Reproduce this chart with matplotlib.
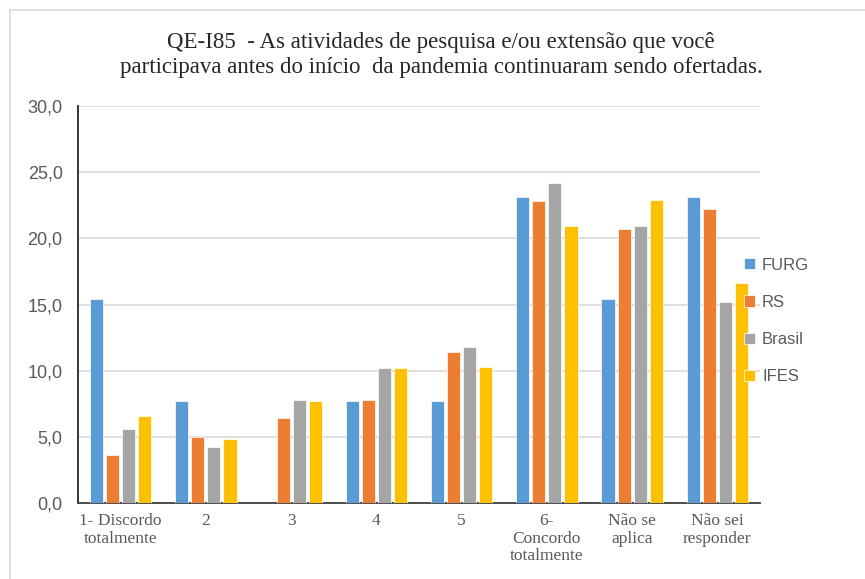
import matplotlib
matplotlib.use("Agg")
import matplotlib.pyplot as plt
import numpy as np
from matplotlib.lines import Line2D

categories = ["1- Discordo\ntotalmente", "2", "3", "4", "5",
              "6-\nConcordo\ntotalmente", "Não se\naplica", "Não sei\nresponder"]
series_names = ["FURG", "RS", "Brasil", "IFES"]
furg = [15.4, 7.7, 0.0, 7.7, 7.7, 23.1, 15.4, 23.1]
rs = [3.6, 5.0, 6.4, 7.8, 11.4, 22.8, 20.7, 22.2]
brasil = [5.6, 4.2, 7.8, 10.2, 11.8, 24.2, 20.9, 15.2]
ifes = [6.6, 4.8, 7.7, 10.2, 10.3, 20.9, 22.9, 16.6]
yticks = [0, 5, 10, 15, 20, 25, 30]

colors = ["#5b9bd5", "#ed7d31", "#a5a5a5", "#ffc000"]
values = [furg, rs, brasil, ifes]

fig = plt.figure(figsize=(8.65, 5.79), dpi=100)
# outer chart frame (top and left edges visible)
fig.lines.append(Line2D([10 / 865, 1.0], [1 - 10 / 579] * 2, transform=fig.transFigure,
                        color="#d9d9d9", linewidth=1.2))
fig.lines.append(Line2D([10 / 865] * 2, [0.0, 1 - 10 / 579], transform=fig.transFigure,
                        color="#d9d9d9", linewidth=1.2))

ax = fig.add_axes([78 / 865, 76 / 579, 682 / 865, 397 / 579])

x = np.arange(len(categories))
width = 0.155
step = 0.188
for i, (vals, c, name) in enumerate(zip(values, colors, series_names)):
    ax.bar(x + (i - 1.5) * step, vals, width=width, color=c, label=name,
           edgecolor="white", linewidth=0.5, zorder=3)

ax.set_xlim(-0.5, len(categories) - 0.5)
ax.set_ylim(0, 30)
ax.set_yticks(yticks)
ax.set_yticklabels([f"{v:.1f}".replace(".", ",") for v in yticks],
                   fontsize=13, color="#595959", family="Liberation Sans")
ax.set_xticks(x)
ax.set_xticklabels(categories, fontsize=12.5, color="#595959",
                   family="Liberation Serif", linespacing=1.15)
ax.tick_params(axis="y", length=0, pad=11)
ax.tick_params(axis="x", length=0, pad=7)
ax.yaxis.grid(True, color="#d9d9d9", linewidth=1.2, zorder=0)
for s in ["top", "right"]:
    ax.spines[s].set_visible(False)
ax.spines["left"].set_color("#262626")
ax.spines["bottom"].set_color("#404040")
ax.spines["left"].set_linewidth(1.3)
ax.spines["bottom"].set_linewidth(1.3)

fig.text(441 / 865, 1 - 55 / 579,
         "QE-I85  - As atividades de pesquisa e/ou extensão que você\n"
         "participava antes do início  da pandemia continuaram sendo ofertadas.",
         ha="center", va="center", fontsize=16.5, family="Liberation Serif",
         color="#262626", linespacing=1.22)

leg = fig.legend(loc="upper left", bbox_to_anchor=(737 / 865, 1 - 251 / 579),
                 frameon=False, handlelength=0.65, handleheight=0.65,
                 handletextpad=0.45, labelspacing=1.33, borderaxespad=0,
                 prop={"family": "Liberation Sans", "size": 12})
for t in leg.get_texts():
    t.set_color("#595959")

fig.savefig("out.png", dpi=100)
